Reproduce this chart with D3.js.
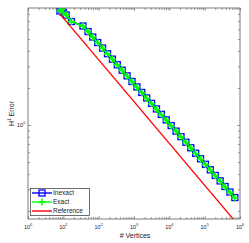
<!DOCTYPE html>
<html><head><meta charset="utf-8">
<script src="https://cdn.jsdelivr.net/npm/d3@7"></script>
<style>body{margin:0;background:#fff}svg{display:block}text{font-family:"Liberation Sans",Arial,sans-serif}</style>
</head><body><div id="chart"></div>
<script>
const inexactN = [8, 9, 10, 12, 17, 36, 50, 68, 94, 129, 178, 245, 337, 463, 637, 877, 1207, 1661, 2285, 3144, 4326, 5953, 8191, 11271, 15509, 21340, 29364, 40405, 55597, 76501, 105266, 144846, 199308, 274248, 377365, 519254, 714493];
const inexactErr = [8.45, 8.77, 8.22, 7.84, 6.94, 6.38, 5.75, 5.19, 4.68, 4.22, 3.80, 3.43, 3.09, 2.79, 2.51, 2.26, 2.04, 1.84, 1.66, 1.50, 1.35, 1.22, 1.10, 0.989, 0.891, 0.804, 0.724, 0.653, 0.589, 0.531, 0.479, 0.432, 0.389, 0.351, 0.316, 0.285, 0.257];
const exactN = inexactN.slice();
const exactErr = [8.44, 8.76, 8.21, 7.83, 6.93, 6.37, 5.74, 5.18, 4.67, 4.21, 3.79, 3.42, 3.08, 2.78, 2.50, 2.25, 2.03, 1.83, 1.65, 1.49, 1.34, 1.21, 1.09, 0.987, 0.889, 0.802, 0.722, 0.651, 0.587, 0.529, 0.477, 0.430, 0.387, 0.349, 0.314, 0.283, 0.255];
const refN = [8, 7.5e5];
const refErr = [8.0, 0.163];
const xTickExp = [0, 1, 2, 3, 4, 5, 6];
const yTickExp = [0];
const seriesNames = ["Inexact", "Exact", "Reference"];

const W = 249, H = 243;
const L = 28, R = 240, T = 8, B = 219;
const svg = d3.select("#chart").append("svg").attr("width", W).attr("height", H);
const x = d3.scaleLog().domain([1, 1e6]).range([L, R]);
const y = d3.scaleLog().domain([0.172, 8.94]).range([B, T]);

svg.append("rect").attr("x", L).attr("y", T).attr("width", R - L).attr("height", B - T).attr("fill", "#fff");

const xMinor = [], yMinor = [];
for (let e = 0; e < 6; e++) for (let m = 2; m <= 9; m++) xMinor.push(m * Math.pow(10, e));
for (let e = -1; e <= 0; e++) for (let m = 2; m <= 9; m++) { const v = m * Math.pow(10, e); if (v >= 0.172 && v <= 8.94) yMinor.push(v); }
const xMajor = xTickExp.map(e => Math.pow(10, e));
const yMajor = yTickExp.map(e => Math.pow(10, e));
const axCol = "#6e6e6e";
function styleAxis(g) { g.select(".domain").remove(); g.selectAll("line").attr("stroke", axCol).attr("stroke-width", 0.7); g.selectAll("text").remove(); }
svg.append("g").attr("transform", `translate(0,${B})`).call(d3.axisBottom(x).tickValues(xMinor).tickSize(-2)).call(styleAxis);
svg.append("g").attr("transform", `translate(0,${T})`).call(d3.axisTop(x).tickValues(xMinor).tickSize(-2)).call(styleAxis);
svg.append("g").attr("transform", `translate(0,${B})`).call(d3.axisBottom(x).tickValues(xMajor).tickSize(-3)).call(styleAxis);
svg.append("g").attr("transform", `translate(0,${T})`).call(d3.axisTop(x).tickValues(xMajor).tickSize(-3)).call(styleAxis);
svg.append("g").attr("transform", `translate(${L},0)`).call(d3.axisLeft(y).tickValues(yMinor).tickSize(-2)).call(styleAxis);
svg.append("g").attr("transform", `translate(${R},0)`).call(d3.axisRight(y).tickValues(yMinor).tickSize(-2)).call(styleAxis);
svg.append("g").attr("transform", `translate(${L},0)`).call(d3.axisLeft(y).tickValues(yMajor).tickSize(-3)).call(styleAxis);
svg.append("g").attr("transform", `translate(${R},0)`).call(d3.axisRight(y).tickValues(yMajor).tickSize(-3)).call(styleAxis);

const xl = svg.append("g").selectAll("text").data(xTickExp).join("text")
  .attr("x", d => x(Math.pow(10, d))).attr("y", B + 9.5).attr("text-anchor", "middle")
  .attr("font-size", 5.5).attr("fill", "#222");
xl.append("tspan").text("10");
xl.append("tspan").attr("dy", -2.8).attr("font-size", 3.8).text(d => d);
const yl = svg.append("g").selectAll("text").data(yTickExp).join("text")
  .attr("x", L - 11).attr("y", d => y(Math.pow(10, d)) + 2).attr("text-anchor", "start")
  .attr("font-size", 5.5).attr("fill", "#222");
yl.append("tspan").text("10");
yl.append("tspan").attr("dy", -2.8).attr("font-size", 3.8).text(d => d);

svg.append("text").attr("x", (L + R) / 2 + 1).attr("y", 238).attr("text-anchor", "middle").attr("font-size", 7).attr("fill", "#222").text("# Vertices");
const yt = svg.append("text").attr("transform", `translate(14,${(T + B) / 2}) rotate(-90)`).attr("text-anchor", "middle").attr("font-size", 7).attr("fill", "#222");
yt.append("tspan").text("H");
yt.append("tspan").attr("dy", -3).attr("font-size", 4.5).text("1");
yt.append("tspan").attr("dy", 3).text(" Error");

svg.append("clipPath").attr("id", "clip").append("rect").attr("x", L).attr("y", T).attr("width", R - L).attr("height", B - T);
const plot = svg.append("g").attr("clip-path", "url(#clip)");
const line = d3.line().x(d => x(d[0])).y(d => y(d[1]));
const inexact = inexactN.map((n, i) => [n, inexactErr[i]]);
const exact = exactN.map((n, i) => [n, exactErr[i]]);
const ref = refN.map((n, i) => [n, refErr[i]]);
const blue = "#0000ff", green = "#00ff00", red = "#ff0000";
plot.append("path").attr("d", line(inexact)).attr("fill", "none").attr("stroke", blue).attr("stroke-width", 1.5);
plot.selectAll(".sq").data(inexact).join("rect").attr("class", "sq")
  .attr("x", d => x(d[0]) - 3).attr("y", d => y(d[1]) - 3).attr("width", 6).attr("height", 6)
  .attr("fill", "none").attr("stroke", blue).attr("stroke-width", 1.3);
plot.append("path").attr("d", line(exact)).attr("fill", "none").attr("stroke", green).attr("stroke-width", 1.6);
plot.selectAll(".pl").data(exact).join("path").attr("class", "pl")
  .attr("d", d => `M${x(d[0]) - 3.5},${y(d[1])}h7M${x(d[0])},${y(d[1]) - 3.5}v7`)
  .attr("stroke", green).attr("stroke-width", 1.6).attr("fill", "none");
plot.append("path").attr("d", line(ref)).attr("fill", "none").attr("stroke", red).attr("stroke-width", 1.3);

svg.append("rect").attr("x", L).attr("y", T).attr("width", R - L).attr("height", B - T).attr("fill", "none").attr("stroke", axCol).attr("stroke-width", 0.9);

const lg = svg.append("g");
lg.append("rect").attr("x", 30.5).attr("y", 188.5).attr("width", 59).attr("height", 27).attr("fill", "#fff").attr("stroke", "#333").attr("stroke-width", 0.7);
const lys = [193, 202, 211];
const cols = [blue, green, red];
seriesNames.forEach((nm, i) => {
  lg.append("line").attr("x1", 32).attr("x2", 52).attr("y1", lys[i]).attr("y2", lys[i]).attr("stroke", cols[i]).attr("stroke-width", 1.4);
  lg.append("text").attr("x", 53).attr("y", lys[i] + 2.3).attr("font-size", 6.5).attr("fill", "#222").text(nm);
});
lg.append("rect").attr("x", 39).attr("y", lys[0] - 3).attr("width", 6).attr("height", 6).attr("fill", "none").attr("stroke", blue).attr("stroke-width", 1.3);
lg.append("path").attr("d", `M38.5,${lys[1]}h7M42,${lys[1] - 3.5}v7`).attr("stroke", green).attr("stroke-width", 1.5);
</script></body></html>
